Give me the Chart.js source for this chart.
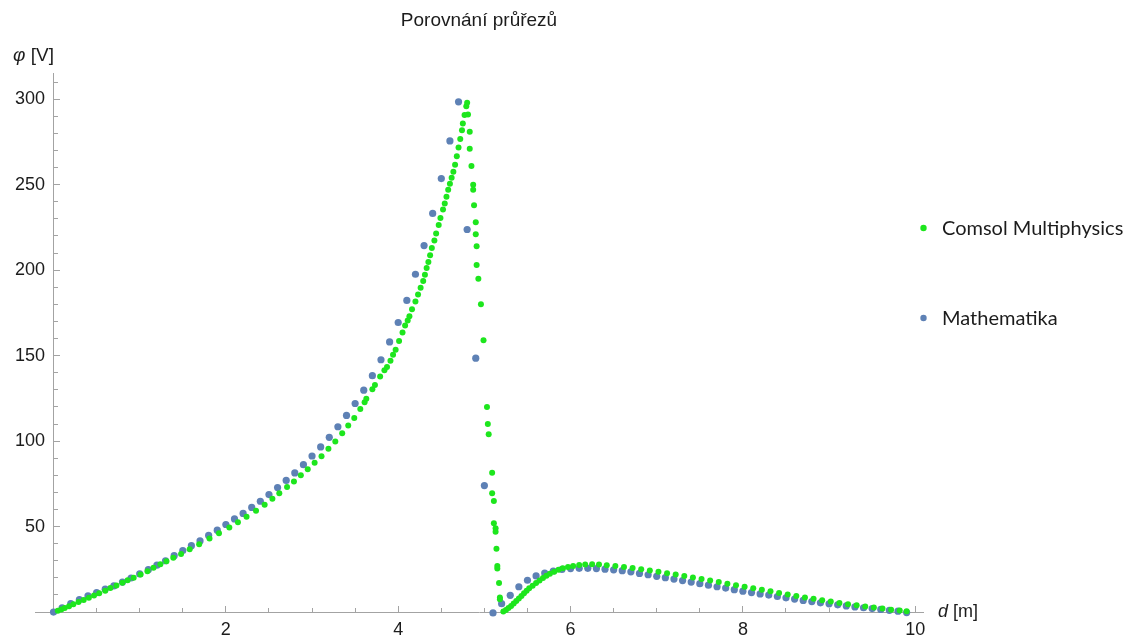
<!DOCTYPE html>
<html>
<head>
<meta charset="utf-8">
<title>Porovnání průřezů</title>
<script src="https://cdn.jsdelivr.net/npm/chart.js@4.4.1/dist/chart.umd.min.js"></script>
<style>
    html, body { margin: 0; padding: 0; background: #fff; }
    #wrap { width: 1133px; height: 639px; }
</style>
</head>
<body>
<div id="wrap"><canvas id="graf" width="1133" height="639"></canvas></div>
<script>
// Comsol Multiphysics (nepravidelná síť, hustší u rozhraní)
const comsolX = [
    0.05, 0.09, 0.13, 0.18, 0.23, 0.29, 0.35, 0.41, 0.47, 0.53, 0.60, 0.66, 0.73, 0.80, 0.86, 0.93,
    1.01, 1.09, 1.16, 1.24, 1.31, 1.39, 1.48, 1.58, 1.69, 1.81, 1.92, 2.04, 2.14, 2.24, 2.35, 2.45,
    2.54, 2.62, 2.71, 2.79, 2.87, 2.95, 3.03, 3.11, 3.19, 3.27, 3.35, 3.42, 3.49, 3.56, 3.61, 3.63,
    3.70, 3.73, 3.79, 3.84, 3.87, 3.91, 3.94, 3.97, 4.01, 4.05, 4.08, 4.11, 4.13, 4.16, 4.20, 4.23,
    4.26, 4.29, 4.31, 4.33, 4.35, 4.37, 4.39, 4.42, 4.44, 4.47, 4.49, 4.52, 4.54, 4.56, 4.58, 4.60,
    4.62, 4.64, 4.66, 4.68, 4.70, 4.72, 4.74, 4.75, 4.77, 4.79, 4.80,
    4.81, 4.83, 4.83, 4.85, 4.87, 4.87, 4.88, 4.90, 4.90, 4.91, 4.91, 4.93, 4.96, 4.99, 5.03, 5.04,
    5.05, 5.09, 5.09, 5.11, 5.11, 5.13, 5.13, 5.14, 5.15, 5.15, 5.17, 5.18, 5.18,
    5.22, 5.25, 5.28, 5.31, 5.34, 5.37, 5.40, 5.43, 5.46, 5.49, 5.52, 5.56, 5.60, 5.64, 5.68, 5.72,
    5.76, 5.81, 5.86, 5.91, 5.97, 6.03, 6.10, 6.17, 6.25, 6.33, 6.42, 6.52, 6.62, 6.72, 6.82, 6.92,
    7.02, 7.12, 7.22, 7.32, 7.42, 7.52, 7.62, 7.72, 7.82, 7.92, 8.02, 8.12, 8.22, 8.32, 8.42, 8.52,
    8.62, 8.72, 8.82, 8.92, 9.02, 9.12, 9.22, 9.32, 9.42, 9.52, 9.62, 9.72, 9.82, 9.90
]
const comsolY = [
    0.8, 1.5, 2.3, 3.4, 4.5, 5.8, 7.1, 8.4, 9.7, 11, 12.5, 14, 15.5, 17.1, 18.6, 20.1,
    22, 23.9, 25.9, 27.9, 29.7, 31.7, 34, 36.7, 39.7, 43, 46.1, 49.5, 52.5, 55.7, 59.3, 62.8,
    66.3, 69.5, 73.2, 76.4, 80, 83.5, 87.3, 91.2, 95.5, 99.8, 104.6, 109.2, 113.5, 118.8, 122.8, 124.8,
    130.3, 132.8, 137.8, 141.4, 143.4, 147, 150.5, 153.5, 158.5, 163.5, 167.6, 170.6, 173.1, 177.1, 181.7, 185.7,
    189.7, 193.7, 197.3, 201.3, 204.8, 208.8, 212.9, 217.4, 221.4, 226.4, 230.5, 235.5, 239, 243, 247, 250.6,
    254, 257.6, 261.7, 266.7, 271.7, 276.8, 281.8, 285.8, 290.8, 295.9, 297.9,
    291, 281, 271, 261, 250, 247, 238, 228, 221, 214, 203, 195, 180, 159, 120, 110,
    104, 81.5, 69.5, 65, 52, 49, 47, 37, 27, 25.5, 17, 8.5, 7.5,
    0.3, 1.2, 2.3, 3.6, 5, 6.4, 7.9, 9.4, 11, 12.5, 13.9, 15.4, 17, 18.5, 19.9, 21.2,
    22.4, 23.6, 24.7, 25.6, 26.4, 27, 27.5, 27.8, 27.9, 27.8, 27.4, 26.9, 26.4, 25.8, 25.1, 24.3,
    23.5, 22.7, 21.9, 21.1, 20.2, 19.3, 18.4, 17.5, 16.6, 15.7, 14.8, 13.9, 13, 12.1, 11.2, 10.3,
    9.4, 8.5, 7.7, 6.9, 6.1, 5.3, 4.6, 3.9, 3.2, 2.6, 2, 1.4, 0.9, 0.5
]

// Mathematika (krok 0,1 m)
const mathX = [
    0, 0.1, 0.2, 0.3, 0.4, 0.5, 0.6, 0.7, 0.8, 0.9, 1, 1.1, 1.2, 1.3, 1.4, 1.5, 1.6, 1.7, 1.8, 1.9,
    2, 2.1, 2.2, 2.3, 2.4, 2.5, 2.6, 2.7, 2.8, 2.9, 3, 3.1, 3.2, 3.3, 3.4, 3.5, 3.6, 3.7, 3.8, 3.9,
    4, 4.1, 4.2, 4.3, 4.4, 4.5, 4.6, 4.7, 4.8, 4.9, 5, 5.1, 5.2, 5.3, 5.4, 5.5, 5.6, 5.7, 5.8, 5.9,
    6, 6.1, 6.2, 6.3, 6.4, 6.5, 6.6, 6.7, 6.8, 6.9, 7, 7.1, 7.2, 7.3, 7.4, 7.5, 7.6, 7.7, 7.8, 7.9,
    8, 8.1, 8.2, 8.3, 8.4, 8.5, 8.6, 8.7, 8.8, 8.9, 9, 9.1, 9.2, 9.3, 9.4, 9.5, 9.6, 9.7, 9.8, 9.9
]
const mathY = [
    0, 2.5, 5, 7.3, 9.4, 11.4, 13.4, 15.3, 17.5, 19.9, 22.3, 24.8, 27.4, 30, 33, 36, 38.8, 41.6, 44.8, 47.9,
    51.2, 54.5, 57.7, 61.2, 64.8, 68.7, 72.8, 77, 81.4, 86.2, 91.3, 96.6, 102.2, 108.4, 115, 122, 129.8, 138.3, 147.6, 158,
    169.4, 182.3, 197.6, 214.4, 233.2, 253.6, 275.6, 298.5, 223.8, 148.5, 74, -0.5, 4.9, 9.8, 14.8, 18.6, 21.1, 22.8, 24, 24.9,
    25.4, 25.6, 25.6, 25.4, 25.1, 24.7, 24.2, 23.5, 22.6, 21.8, 20.9, 20.1, 19.3, 18.4, 17.5, 16.6, 15.7, 14.8, 14, 13.1,
    12.2, 11.4, 10.6, 9.9, 9.1, 8.3, 7.6, 6.8, 6.1, 5.4, 4.8, 4.2, 3.6, 3, 2.5, 2, 1.5, 1, 0.5, -0.3
]

const xMajorTicks = [2, 4, 6, 8, 10]
const xMinorTicks = [0.5, 1, 1.5, 2.5, 3, 3.5, 4.5, 5, 5.5, 6.5, 7, 7.5, 8.5, 9, 9.5]
const yMajorTicks = [50, 100, 150, 200, 250, 300]
const yMinorTicks = [10, 20, 30, 40, 60, 70, 80, 90, 110, 120, 130, 140, 160, 170, 180, 190,
    210, 220, 230, 240, 260, 270, 280, 290, 310]

const AXIS_GRAY = '#a3a3a3'
const TEXT = '#1c1c1c'
const GREEN = '#1de61d'
const BLUE = '#5e81b5'

Chart.defaults.font.family = '"Liberation Sans", Arial, sans-serif'
Chart.defaults.color = TEXT

const _pairs = (xs, ys) => xs.map((x, i) => ({ x, y: ys[i] }))
const _setTicks = (list) => (scale) => { scale.ticks = list.map(value => ({ value })) }

const xRange = { min: -0.215, max: 10.09 }
const yRange = { min: -1.5, max: 315 }

/** legenda vpravo + popisky os */
const labelsPlugin = {
    id: 'labelsPlugin',
    afterDraw(chart) {
        const { ctx, chartArea, scales } = chart
        const x0 = scales.x.getPixelForValue(0)
        const y0 = scales.y.getPixelForValue(0)
        ctx.save()
        ctx.textBaseline = 'middle'
        ctx.fillStyle = TEXT

        // osa y
        ctx.font = 'italic 19px "Liberation Sans", Arial, sans-serif'
        let tx = x0 - 40.5
        ctx.fillText('φ', tx, chartArea.top - 18)
        tx += ctx.measureText('φ').width
        ctx.font = '19px "Liberation Sans", Arial, sans-serif'
        ctx.fillText(' [V]', tx, chartArea.top - 18)

        // osa x
        ctx.font = 'italic 18px "Liberation Sans", Arial, sans-serif'
        tx = chartArea.right + 15
        ctx.fillText('d', tx, y0)
        tx += ctx.measureText('d').width
        ctx.font = '18px "Liberation Sans", Arial, sans-serif'
        ctx.fillText(' [m]', tx, y0)

        // legenda
        ctx.font = '20px Lato, "Open Sans", sans-serif'
        chart.data.datasets.forEach((ds, i) => {
            const ly = 228 + i * 90
            ctx.fillStyle = ds.pointBackgroundColor
            ctx.beginPath()
            ctx.arc(chartArea.right + 0.5, ly, 3.2, 0, Math.PI * 2)
            ctx.fill()
            ctx.fillStyle = TEXT
            ctx.fillText(ds.label, chartArea.right + 19, ly + 1)
        })
        ctx.restore()
    }
}

const ctx = document.getElementById('graf')
new Chart(ctx, {
    type: 'scatter',
    data: {
        datasets: [
            {
                label: 'Comsol Multiphysics',
                data: _pairs(comsolX, comsolY),
                xAxisID: 'x',
                yAxisID: 'y',
                pointBackgroundColor: GREEN,
                pointBorderWidth: 0,
                pointRadius: 3,
                clip: false,
            },
            {
                label: 'Mathematika',
                data: _pairs(mathX, mathY),
                xAxisID: 'x',
                yAxisID: 'y',
                pointBackgroundColor: BLUE,
                pointBorderWidth: 0,
                pointRadius: 3.6,
                clip: false,
            },
        ]
    },
    options: {
        responsive: false,
        animation: false,
        events: [],
        layout: { padding: { left: 35, right: 210, top: 0, bottom: 24.4 } },
        plugins: {
            legend: { display: false },
            tooltip: { enabled: false },
            title: {
                display: true,
                text: 'Porovnání průřezů',
                fullSize: false,
                color: TEXT,
                font: { size: 19, weight: 'normal' },
                padding: { top: 9, bottom: 41.8 },
            },
        },
        scales: {
            x: {
                type: 'linear',
                position: { y: 0 },
                ...xRange,
                afterBuildTicks: _setTicks(xMajorTicks),
                border: { display: true, color: AXIS_GRAY, width: 1 },
                grid: { drawOnChartArea: false, drawTicks: true, tickLength: -7, tickColor: AXIS_GRAY, tickWidth: 1 },
                ticks: { autoSkip: false, maxRotation: 0, padding: 14, color: TEXT, font: { size: 18 } },
            },
            xMinor: {
                type: 'linear',
                position: { y: 0 },
                ...xRange,
                afterBuildTicks: _setTicks(xMinorTicks),
                border: { display: false },
                grid: { drawOnChartArea: false, drawTicks: true, tickLength: -4, tickColor: AXIS_GRAY, tickWidth: 1 },
                ticks: { display: false },
            },
            y: {
                type: 'linear',
                position: { x: 0 },
                ...yRange,
                afterBuildTicks: _setTicks(yMajorTicks),
                border: { display: true, color: AXIS_GRAY, width: 1 },
                grid: { drawOnChartArea: false, drawTicks: true, tickLength: -7, tickColor: AXIS_GRAY, tickWidth: 1 },
                ticks: { display: false },
            },
            yMinor: {
                type: 'linear',
                position: { x: 0 },
                ...yRange,
                afterBuildTicks: _setTicks(yMinorTicks),
                border: { display: false },
                grid: { drawOnChartArea: false, drawTicks: true, tickLength: -4, tickColor: AXIS_GRAY, tickWidth: 1 },
                ticks: { display: false },
            },
            yLabels: {
                type: 'linear',
                position: { x: -0.1 },
                ...yRange,
                afterBuildTicks: _setTicks(yMajorTicks),
                border: { display: false },
                grid: { display: false, drawTicks: false },
                ticks: { autoSkip: false, padding: 0, color: TEXT, font: { size: 18 } },
            },
        }
    },
    plugins: [labelsPlugin]
})
</script>
</body>
</html>
